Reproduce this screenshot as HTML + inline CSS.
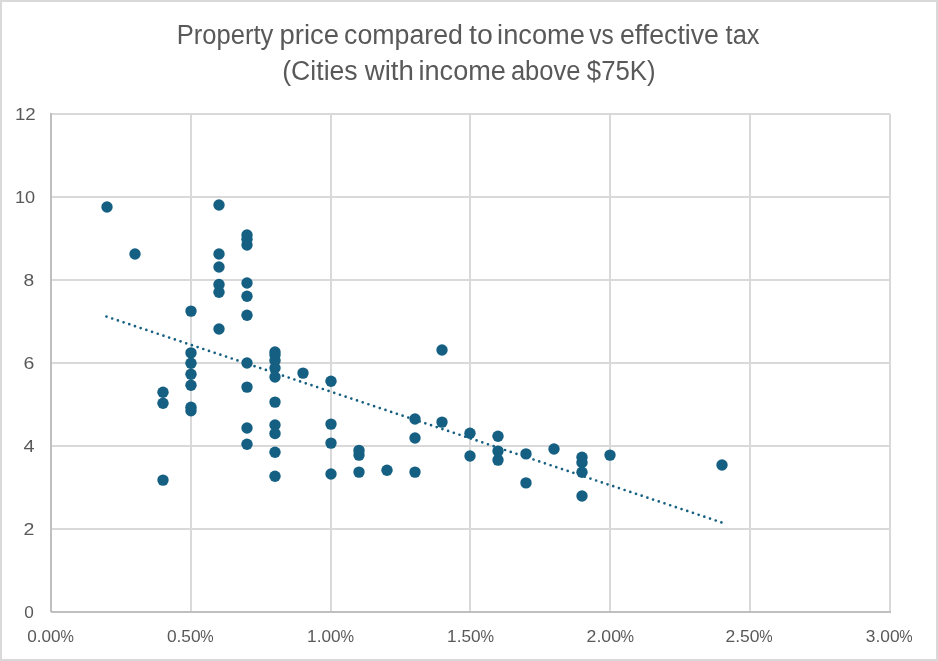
<!DOCTYPE html>
<html lang="en"><head><meta charset="utf-8"><title>Property price compared to income vs effective tax</title>
<style>html,body{margin:0;padding:0;background:#fff;}body{width:938px;height:661px;overflow:hidden;}svg{display:block;will-change:transform;}text{font-family:"Liberation Sans",Arial,sans-serif;fill:#595959;}.ax{font-size:17.4px;}.tt{font-size:27px;}</style></head><body>
<svg width="938" height="661" viewBox="0 0 938 661">
<rect x="0" y="0" width="938" height="661" fill="#fff"/>
<g fill="#d9d9d9" shape-rendering="crispEdges"><rect x="0" y="0" width="938" height="2"/><rect x="0" y="659" width="938" height="2"/><rect x="0" y="0" width="2" height="661"/><rect x="936" y="0" width="2" height="661"/></g>
<g fill="#d9d9d9" shape-rendering="crispEdges"><rect x="51" y="528" width="839" height="2"/><rect x="51" y="445" width="839" height="2"/><rect x="51" y="362" width="839" height="2"/><rect x="51" y="279" width="839" height="2"/><rect x="51" y="196" width="839" height="2"/><rect x="51" y="113" width="839" height="2"/><rect x="190" y="114" width="2" height="498"/><rect x="330" y="114" width="2" height="498"/><rect x="469" y="114" width="2" height="498"/><rect x="609" y="114" width="2" height="498"/><rect x="749" y="114" width="2" height="498"/><rect x="889" y="114" width="2" height="498"/></g>
<g fill="#bfbfbf" shape-rendering="crispEdges"><rect x="50" y="113" width="2" height="499"/><rect x="51" y="611" width="840" height="2"/></g>
<line x1="106.5" y1="316.6" x2="721.4" y2="522.4" stroke="#156082" stroke-width="2.7" stroke-linecap="round" stroke-dasharray="0 6.0039"/>
<g fill="#156082"><circle cx="107.0" cy="207.0" r="5.70"/><circle cx="135.0" cy="254.0" r="5.70"/><circle cx="163.0" cy="392.3" r="5.70"/><circle cx="163.0" cy="403.2" r="5.70"/><circle cx="163.0" cy="480.1" r="5.70"/><circle cx="191.0" cy="311.1" r="5.70"/><circle cx="191.0" cy="352.9" r="5.70"/><circle cx="191.0" cy="363.3" r="5.70"/><circle cx="191.0" cy="374.2" r="5.70"/><circle cx="191.0" cy="385.2" r="5.70"/><circle cx="191.0" cy="407.2" r="5.70"/><circle cx="191.0" cy="410.8" r="5.70"/><circle cx="219.0" cy="205.0" r="5.70"/><circle cx="219.0" cy="254.0" r="5.70"/><circle cx="219.0" cy="267.0" r="5.70"/><circle cx="219.0" cy="284.5" r="5.70"/><circle cx="219.0" cy="292.3" r="5.70"/><circle cx="219.0" cy="329.0" r="5.70"/><circle cx="247.0" cy="235.0" r="5.70"/><circle cx="247.0" cy="239.3" r="5.70"/><circle cx="247.0" cy="245.0" r="5.70"/><circle cx="247.0" cy="283.0" r="5.70"/><circle cx="247.0" cy="296.2" r="5.70"/><circle cx="247.0" cy="315.2" r="5.70"/><circle cx="247.0" cy="363.0" r="5.70"/><circle cx="247.0" cy="387.1" r="5.70"/><circle cx="247.0" cy="428.0" r="5.70"/><circle cx="247.0" cy="444.2" r="5.70"/><circle cx="275.0" cy="352.0" r="5.70"/><circle cx="275.0" cy="355.0" r="5.70"/><circle cx="275.0" cy="360.5" r="5.70"/><circle cx="275.0" cy="368.0" r="5.70"/><circle cx="275.0" cy="377.0" r="5.70"/><circle cx="275.0" cy="402.1" r="5.70"/><circle cx="275.0" cy="425.0" r="5.70"/><circle cx="275.0" cy="433.5" r="5.70"/><circle cx="275.0" cy="452.2" r="5.70"/><circle cx="275.0" cy="476.3" r="5.70"/><circle cx="303.0" cy="373.1" r="5.70"/><circle cx="331.0" cy="381.3" r="5.70"/><circle cx="331.0" cy="424.1" r="5.70"/><circle cx="331.0" cy="443.1" r="5.70"/><circle cx="331.0" cy="474.0" r="5.70"/><circle cx="359.0" cy="450.4" r="5.70"/><circle cx="359.0" cy="455.1" r="5.70"/><circle cx="359.0" cy="472.1" r="5.70"/><circle cx="387.0" cy="470.2" r="5.70"/><circle cx="415.0" cy="419.0" r="5.70"/><circle cx="415.0" cy="438.0" r="5.70"/><circle cx="415.0" cy="472.1" r="5.70"/><circle cx="442.0" cy="350.0" r="5.70"/><circle cx="442.0" cy="422.1" r="5.70"/><circle cx="470.0" cy="433.2" r="5.70"/><circle cx="470.0" cy="456.0" r="5.70"/><circle cx="498.0" cy="436.2" r="5.70"/><circle cx="498.0" cy="451.1" r="5.70"/><circle cx="498.0" cy="460.1" r="5.70"/><circle cx="526.0" cy="453.9" r="5.70"/><circle cx="526.0" cy="482.9" r="5.70"/><circle cx="554.0" cy="449.0" r="5.70"/><circle cx="582.0" cy="457.3" r="5.70"/><circle cx="582.0" cy="462.5" r="5.70"/><circle cx="582.0" cy="472.2" r="5.70"/><circle cx="582.0" cy="496.0" r="5.70"/><circle cx="610.0" cy="455.1" r="5.70"/><circle cx="722.0" cy="465.0" r="5.70"/></g>
<text class="ax" x="24.33" y="618.1" textLength="9.54" lengthAdjust="spacingAndGlyphs">0</text>
<text class="ax" x="23.62" y="535.1" textLength="10.87" lengthAdjust="spacingAndGlyphs">2</text>
<text class="ax" x="23.54" y="452.1" textLength="11.04" lengthAdjust="spacingAndGlyphs">4</text>
<text class="ax" x="23.51" y="369.1" textLength="10.85" lengthAdjust="spacingAndGlyphs">6</text>
<text class="ax" x="23.57" y="286.1" textLength="10.67" lengthAdjust="spacingAndGlyphs">8</text>
<text class="ax" x="15.02" y="203.1" textLength="20.19" lengthAdjust="spacingAndGlyphs">10</text>
<text class="ax" x="14.93" y="120.1" textLength="20.76" lengthAdjust="spacingAndGlyphs">12</text>
<text class="ax" y="642.2"><tspan x="27.23" textLength="33.44" lengthAdjust="spacingAndGlyphs">0.00</tspan><tspan x="60.46" textLength="13.37" lengthAdjust="spacingAndGlyphs">%</tspan></text>
<text class="ax" y="642.2"><tspan x="166.92" textLength="33.65" lengthAdjust="spacingAndGlyphs">0.50</tspan><tspan x="200.36" textLength="13.37" lengthAdjust="spacingAndGlyphs">%</tspan></text>
<text class="ax" y="642.2"><tspan x="307.09" textLength="33.48" lengthAdjust="spacingAndGlyphs">1.00</tspan><tspan x="340.41" textLength="13.54" lengthAdjust="spacingAndGlyphs">%</tspan></text>
<text class="ax" y="642.2"><tspan x="447.09" textLength="33.48" lengthAdjust="spacingAndGlyphs">1.50</tspan><tspan x="480.41" textLength="13.54" lengthAdjust="spacingAndGlyphs">%</tspan></text>
<text class="ax" y="642.2"><tspan x="586.61" textLength="34.38" lengthAdjust="spacingAndGlyphs">2.00</tspan><tspan x="620.46" textLength="13.48" lengthAdjust="spacingAndGlyphs">%</tspan></text>
<text class="ax" y="642.2"><tspan x="725.52" textLength="34.06" lengthAdjust="spacingAndGlyphs">2.50</tspan><tspan x="759.36" textLength="13.37" lengthAdjust="spacingAndGlyphs">%</tspan></text>
<text class="ax" y="642.2"><tspan x="865.84" textLength="33.74" lengthAdjust="spacingAndGlyphs">3.00</tspan><tspan x="899.36" textLength="13.37" lengthAdjust="spacingAndGlyphs">%</tspan></text>
<text class="tt" x="176.80" y="43.5" textLength="96.55" lengthAdjust="spacingAndGlyphs">Property</text>
<text class="tt" x="279.53" y="43.5" textLength="59.59" lengthAdjust="spacingAndGlyphs">price</text>
<text class="tt" x="344.06" y="43.5" textLength="118.86" lengthAdjust="spacingAndGlyphs">compared</text>
<text class="tt" x="468.97" y="43.5" textLength="23.83" lengthAdjust="spacingAndGlyphs">to</text>
<text class="tt" x="497.08" y="43.5" textLength="87.83" lengthAdjust="spacingAndGlyphs">income</text>
<text class="tt" x="589.22" y="43.5" textLength="24.36" lengthAdjust="spacingAndGlyphs">vs</text>
<text class="tt" x="619.96" y="43.5" textLength="99.02" lengthAdjust="spacingAndGlyphs">effective</text>
<text class="tt" x="725.61" y="43.5" textLength="33.96" lengthAdjust="spacingAndGlyphs">tax</text>
<text class="tt" x="282.25" y="79.7" textLength="75.41" lengthAdjust="spacingAndGlyphs">(Cities</text>
<text class="tt" x="364.74" y="79.7" textLength="49.15" lengthAdjust="spacingAndGlyphs">with</text>
<text class="tt" x="418.49" y="79.7" textLength="87.42" lengthAdjust="spacingAndGlyphs">income</text>
<text class="tt" x="510.91" y="79.7" textLength="69.62" lengthAdjust="spacingAndGlyphs">above</text>
<text class="tt" x="586.82" y="79.7" textLength="68.78" lengthAdjust="spacingAndGlyphs">$75K)</text>
</svg></body></html>
